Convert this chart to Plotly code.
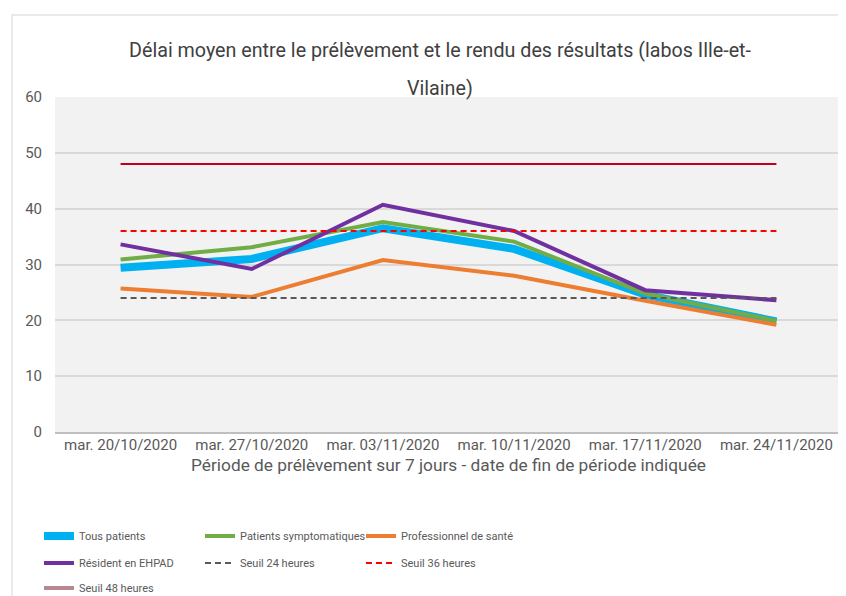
import plotly.graph_objects as go

categories = ["mar. 20/10/2020", "mar. 27/10/2020", "mar. 03/11/2020",
              "mar. 10/11/2020", "mar. 17/11/2020", "mar. 24/11/2020"]
tous_patients = [29.4, 31.0, 36.5, 32.8, 24.6, 19.8]
patients_sympto = [30.9, 33.1, 37.6, 34.1, 24.8, 19.9]
pro_sante = [25.7, 24.2, 30.8, 28.0, 23.5, 19.2]
resident_ehpad = [33.6, 29.2, 40.7, 36.0, 25.4, 23.6]
seuil_24 = [24] * 6
seuil_36 = [36] * 6
seuil_48 = [48] * 6
y_ticks = [0, 10, 20, 30, 40, 50, 60]

FONT = "Roboto, sans-serif"
TXT = "#595959"

fig = go.Figure()
fig.add_trace(go.Scatter(x=categories, y=tous_patients, name="Tous patients", mode="lines",
                         line=dict(color="#00B0F0", width=8), legend="legend"))
fig.add_trace(go.Scatter(x=categories, y=patients_sympto, name="Patients symptomatiques", mode="lines",
                         line=dict(color="#70AD47", width=4), legend="legend"))
fig.add_trace(go.Scatter(x=categories, y=pro_sante, name="Professionnel de santé", mode="lines",
                         line=dict(color="#ED7D31", width=4), legend="legend"))
fig.add_trace(go.Scatter(x=categories, y=resident_ehpad, name="Résident en EHPAD", mode="lines",
                         line=dict(color="#7030A0", width=4), legend="legend2"))
fig.add_trace(go.Scatter(x=categories, y=seuil_24, name="Seuil 24 heures", mode="lines",
                         line=dict(color="#595959", width=2, dash="6px,4px"), legend="legend2"))
fig.add_trace(go.Scatter(x=categories, y=seuil_36, name="Seuil 36 heures", mode="lines",
                         line=dict(color="#FF0000", width=2, dash="6px,4px"), legend="legend2"))
fig.add_trace(go.Scatter(x=categories, y=seuil_48, name="Seuil 48 heures", mode="lines",
                         line=dict(color="#C00020", width=2), showlegend=False,
                         legendgroup="s48", legend="legend3"))
fig.add_trace(go.Scatter(x=[None], y=[None], name="Seuil 48 heures", mode="lines",
                         line=dict(color="#B88890", width=4), legendgroup="s48", legend="legend3"))

FW, FH = 838, 588
L, R, T, B = 47, 4, 89, 164
W = FW - L - R
H = FH - T - B
BOTTOM = FH - B


def legend_row(yc):
    return dict(orientation="h", xref="container", yref="container", x=31 / FW, y=1 - yc / FH,
                xanchor="left", yanchor="middle", entrywidth=116, entrywidthmode="pixels",
                font=dict(size=11, color=TXT), bgcolor="rgba(0,0,0,0)", tracegroupgap=0)


fig.update_layout(
    width=FW, height=FH,
    margin=dict(l=L, r=R, t=T, b=B),
    paper_bgcolor="white",
    plot_bgcolor="#F2F2F2",
    font=dict(family=FONT, size=13, color=TXT),
    title=dict(text="Délai moyen entre le prélèvement et le rendu des résultats (labos Ille-et-",
               xref="container", yref="container", x=432 / FW, xanchor="center",
               y=1 - 42 / FH, yanchor="middle",
               font=dict(family=FONT, size=19.7, color="#404040")),
    annotations=[dict(text="Vilaine)", xref="paper", yref="paper", x=(432 - L) / W,
                      y=(BOTTOM - 80) / H, xanchor="center", yanchor="middle", showarrow=False,
                      font=dict(family=FONT, size=19.7, color="#404040"))],
    shapes=[dict(type="rect", xref="paper", yref="paper", x0=(4 - L) / W, x1=(860 - L) / W,
                 y0=(BOTTOM - 620) / H, y1=(BOTTOM - 7) / H, line=dict(color="#E3E3E3", width=1.5),
                 fillcolor="rgba(0,0,0,0)", layer="below")],
    xaxis=dict(type="category", range=[-0.5, 5.5], showgrid=False, showline=True,
               linecolor="#BFBFBF", linewidth=1.5, automargin=False,
               ticks="", tickfont=dict(size=15, color=TXT), ticklabelstandoff=-2,
               title=dict(text="Période de prélèvement sur 7 jours - date de fin de période indiquée",
                          font=dict(size=17.3, color=TXT), standoff=6)),
    yaxis=dict(range=[0, 60], tickvals=y_ticks, showgrid=True, gridcolor="#D9D9D9", gridwidth=1.5,
               zeroline=False, ticks="", automargin=False, tickfont=dict(size=15, color=TXT),
               ticklabelstandoff=12),
    legend=legend_row(528),
    legend2=legend_row(555),
    legend3=legend_row(580),
    showlegend=True,
)

fig.write_html("out.html")
